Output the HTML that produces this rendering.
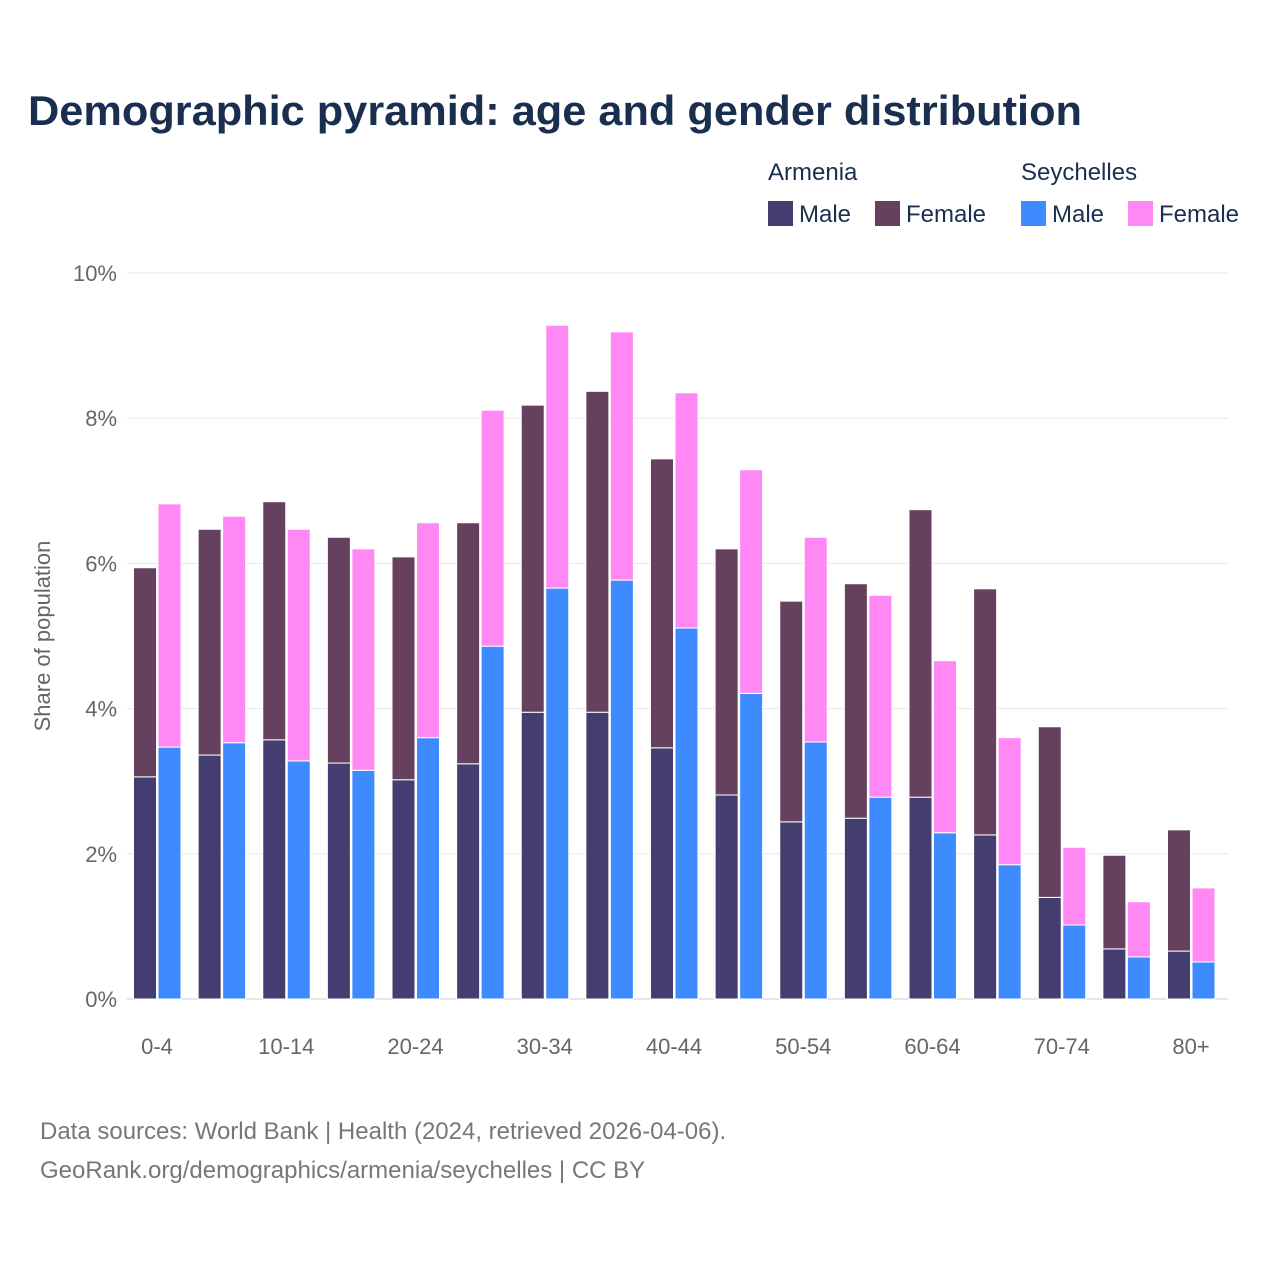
<!DOCTYPE html>
<html><head><meta charset="utf-8">
<style>
html,body{margin:0;padding:0;background:#fff;}
body{width:1280px;height:1280px;overflow:hidden;font-family:"Liberation Sans",sans-serif;}
</style></head>
<body>
<svg id="chart" width="1280" height="1280" xmlns="http://www.w3.org/2000/svg" font-family="Liberation Sans, sans-serif">
<text x="28" y="125" font-size="42" font-weight="bold" fill="#1a2f4f" textLength="1054" lengthAdjust="spacingAndGlyphs">Demographic pyramid: age and gender distribution</text>
<g font-size="24" fill="#1a2f4f">
<text x="768" y="180">Armenia</text>
<text x="1021" y="180">Seychelles</text>
<rect x="768" y="201" width="25" height="25" fill="#433d70"/>
<text x="799" y="222">Male</text>
<rect x="875" y="201" width="25" height="25" fill="#66405f"/>
<text x="906" y="222">Female</text>
<rect x="1021" y="201" width="25" height="25" fill="#3e8bff"/>
<text x="1052" y="222">Male</text>
<rect x="1128" y="201" width="25" height="25" fill="#ff88f5"/>
<text x="1159" y="222">Female</text>
</g>
<text transform="translate(50,636) rotate(-90)" text-anchor="middle" font-size="22" fill="#666">Share of population</text>
<g id="grid"></g>
<g id="bars"></g>
<g id="xlabels"></g>
<text x="40" y="1139" font-size="24" fill="#777">Data sources: World Bank | Health (2024, retrieved 2026-04-06).</text>
<text x="40" y="1178" font-size="24" fill="#777">GeoRank.org/demographics/armenia/seychelles | CC BY</text>
</svg>
<script>
const categories=["0-4","5-9","10-14","15-19","20-24","25-29","30-34","35-39","40-44","45-49","50-54","55-59","60-64","65-69","70-74","75-79","80+"];
const armMale=[3.06,3.36,3.57,3.25,3.02,3.24,3.95,3.95,3.46,2.81,2.44,2.49,2.78,2.26,1.40,0.69,0.66];
const armFemale=[2.88,3.11,3.28,3.11,3.07,3.32,4.23,4.42,3.98,3.39,3.04,3.23,3.96,3.39,2.35,1.29,1.67];
const seyMale=[3.47,3.53,3.28,3.15,3.60,4.86,5.66,5.77,5.11,4.21,3.54,2.78,2.29,1.85,1.02,0.58,0.51];
const seyFemale=[3.35,3.12,3.19,3.05,2.96,3.25,3.62,3.42,3.24,3.08,2.82,2.78,2.37,1.75,1.07,0.76,1.02];
const yTicks=[0,2,4,6,8,10];
const NS="http://www.w3.org/2000/svg";
const y0=999, pxPer=72.6;
function y(v){return y0-v*pxPer;}
function xc(i){return 157+i*64.625;}
const grid=document.getElementById('grid');
yTicks.forEach(t=>{
 const l=document.createElementNS(NS,'line');
 l.setAttribute('x1',127);l.setAttribute('x2',1228);l.setAttribute('y1',y(t));l.setAttribute('y2',y(t));
 l.setAttribute('stroke',t===0?'#ccc':'#e8e8e8');l.setAttribute('stroke-width',1);
 
 
 grid.appendChild(l);
 const tx=document.createElementNS(NS,'text');
 tx.setAttribute('x',117);tx.setAttribute('y',y(t)+8);tx.setAttribute('text-anchor','end');
 tx.setAttribute('font-size',22);tx.setAttribute('fill','#666');tx.textContent=t+'%';
 
 
 grid.appendChild(tx);
});
const bars=document.getElementById('bars');
function rect(x,v0,v1,fill,name){
 const r=document.createElementNS(NS,'rect');
 r.setAttribute('x',x);r.setAttribute('width',23);
 r.setAttribute('y',y(v1));r.setAttribute('height',y(v0)-y(v1));
 r.setAttribute('fill',fill);r.setAttribute('stroke','#fff');r.setAttribute('stroke-width',1);
 
 
 bars.appendChild(r);
}
categories.forEach((c,i)=>{
 const cx=xc(i);
 rect(cx-23.5,0,armMale[i],'#433d70','bar-armenia-male-'+c);
 rect(cx-23.5,armMale[i],armMale[i]+armFemale[i],'#66405f','bar-armenia-female-'+c);
 rect(cx+1,0,seyMale[i],'#3e8bff','bar-seychelles-male-'+c);
 rect(cx+1,seyMale[i],seyMale[i]+seyFemale[i],'#ff88f5','bar-seychelles-female-'+c);
 if(i%2===0){
  const t=document.createElementNS(NS,'text');
  t.setAttribute('x',cx);t.setAttribute('y',1054);t.setAttribute('text-anchor','middle');
  t.setAttribute('font-size',22);t.setAttribute('fill','#666');t.textContent=c;
  
  
  document.getElementById('xlabels').appendChild(t);
 }
});
</script>
</body></html>
